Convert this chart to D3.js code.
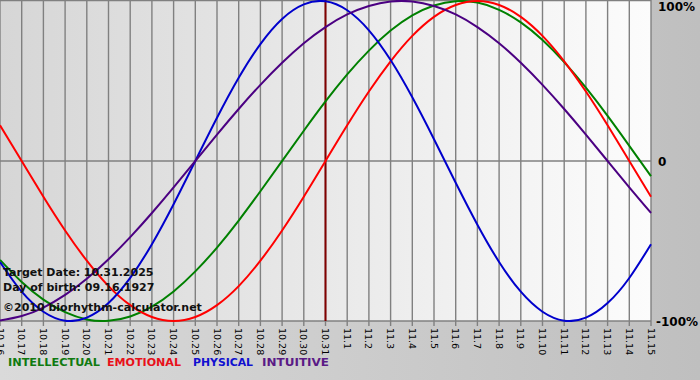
<!DOCTYPE html>
<html><head><meta charset="utf-8">
<script src="https://cdn.jsdelivr.net/npm/d3@7"></script>
<style>body{margin:0;background:#c0c0c0}svg{display:block}</style>
</head><body><svg id="c" width="700" height="380"></svg>
<script>
const days = ["10.16","10.17","10.18","10.19","10.20","10.21","10.22","10.23","10.24","10.25","10.26","10.27","10.28","10.29","10.30","10.31",
"11.1","11.2","11.3","11.4","11.5","11.6","11.7","11.8","11.9","11.10","11.11","11.12","11.13","11.14","11.15"];
const intellectual = [-0.618,-0.756,-0.866,-0.945,-0.990,-0.999,-0.972,-0.910,-0.815,-0.690,-0.541,-0.372,-0.189,0,0.189,0.372,0.541,0.690,0.815,0.910,0.972,0.999,0.990,0.945,0.866,0.756,0.618,0.458,0.282,0.095,-0.095];
const emotional = [0.223,0,-0.223,-0.434,-0.623,-0.782,-0.901,-0.975,-1,-0.975,-0.901,-0.782,-0.623,-0.434,-0.223,0,0.223,0.434,0.623,0.782,0.901,0.975,1,0.975,0.901,0.782,0.623,0.434,0.223,0,-0.223];
const physical = [-0.631,-0.817,-0.942,-0.998,-0.979,-0.888,-0.731,-0.520,-0.270,0,0.270,0.520,0.731,0.888,0.979,0.998,0.942,0.817,0.631,0.398,0.136,-0.136,-0.398,-0.631,-0.817,-0.942,-0.998,-0.979,-0.888,-0.731,-0.520];
const intuitive = [-0.997,-0.969,-0.916,-0.837,-0.736,-0.614,-0.476,-0.325,-0.165,0,0.165,0.325,0.476,0.614,0.736,0.837,0.916,0.969,0.997,0.997,0.969,0.916,0.837,0.736,0.614,0.476,0.325,0.165,0,-0.165,-0.325];
const yTicks = [1,0,-1];
const yTickLabels = ["100%","0","-100%"];
const targetDay = "10.31";
const infoLines = ["Target Date: 10.31.2025","Day of birth: 09.16.1927","©2010 biorhythm-calculator.net"];
const legendNames = ["INTELLECTUAL","EMOTIONAL","PHYSICAL","INTUITIVE"];
const colors = ["#008000","#ff0000","#0000cc","#4b0082"];
const legendColors = ["#107a10","#e8101a","#1010d0","#5a1a86"];

const svg = d3.select("#c");
const defs = svg.append("defs");
const g1 = defs.append("linearGradient").attr("id","bg").attr("x1",0).attr("x2",1).attr("y1",0).attr("y2",0);
g1.append("stop").attr("offset",0).attr("stop-color","#dadada");
g1.append("stop").attr("offset",1).attr("stop-color","#bfbfbf");
const g2 = defs.append("linearGradient").attr("id","pl").attr("x1",0).attr("x2",1).attr("y1",0).attr("y2",0);
g2.append("stop").attr("offset",0).attr("stop-color","#d6d6d6");
g2.append("stop").attr("offset",1).attr("stop-color","#fcfcfc");

svg.append("rect").attr("width",700).attr("height",380).attr("fill","url(#bg)");

const x = d3.scaleLinear().domain([0, days.length-1]).range([0, 651]);
const y = d3.scaleLinear().domain([-1,1]).range([321, 1]);

svg.append("rect").attr("x",0).attr("y",0).attr("width",x(days.length-1)).attr("height",y(-1)).attr("fill","url(#pl)");

// vertical grid
svg.append("g").selectAll("line").data(days).join("line")
  .attr("x1",(d,i)=>x(i)).attr("x2",(d,i)=>x(i)).attr("y1",0).attr("y2",y(-1)+5)
  .attr("stroke","#808080").attr("stroke-width",1.4);
// horizontal lines
svg.append("g").selectAll("line").data(yTicks).join("line")
  .attr("x1",0).attr("x2",x(days.length-1)).attr("y1",d=>d===1?0.5:y(d)).attr("y2",d=>d===1?0.5:y(d))
  .attr("stroke","#808080").attr("stroke-width",1.4);

// x labels
svg.append("g").selectAll("text").data(days).join("text")
  .attr("transform",(d,i)=>`translate(${x(i)-3.5},328) rotate(90)`)
  .attr("font-family","DejaVu Sans, Verdana, sans-serif").attr("font-size",9.5).attr("fill","#000")
  .text(d=>d);

// y labels
svg.append("g").selectAll("text").data(yTicks).join("text")
  .attr("x",d=>d===-1?656:658).attr("y",(d,i)=>d===1?11:y(d)+5)
  .attr("font-family","DejaVu Sans, Verdana, sans-serif").attr("font-size",12).attr("font-weight","bold").attr("fill","#000")
  .text((d,i)=>yTickLabels[i]);

// target line
const ti = days.indexOf(targetDay);
svg.append("line").attr("x1",x(ti)).attr("x2",x(ti)).attr("y1",0).attr("y2",y(-1))
  .attr("stroke","#800000").attr("stroke-width",2);

// series
const series = [intellectual, emotional, physical, intuitive];
const line = d3.line().x((d,i)=>x(i)).y(d=>y(d)).curve(d3.curveNatural);
svg.append("defs").append("clipPath").attr("id","clip").append("rect").attr("x",0).attr("y",0).attr("width",652).attr("height",322);
const sg = svg.append("g").attr("clip-path","url(#clip)");
series.forEach((s,k)=>{
  sg.append("path").attr("d",line(s)).attr("fill","none").attr("stroke",colors[k]).attr("stroke-width",2);
});

// info text
svg.append("g").selectAll("text").data(infoLines).join("text")
  .attr("x",3).attr("y",(d,i)=>[276,291,311][i])
  .attr("font-family","DejaVu Sans, Verdana, sans-serif").attr("font-size",11).attr("font-weight","bold").attr("fill","#111")
  .text(d=>d);

// legend
const lx = [8,107,193,262];
const lw = [92,74,60,67];
svg.append("g").selectAll("text").data(legendNames).join("text")
  .attr("x",(d,i)=>lx[i]).attr("y",366)
  .attr("font-family","DejaVu Sans, Verdana, sans-serif").attr("font-size",11).attr("font-weight","bold")
  .attr("fill",(d,i)=>legendColors[i])
  .attr("textLength",(d,i)=>lw[i]).attr("lengthAdjust","spacingAndGlyphs")
  .text(d=>d);
</script></body></html>
